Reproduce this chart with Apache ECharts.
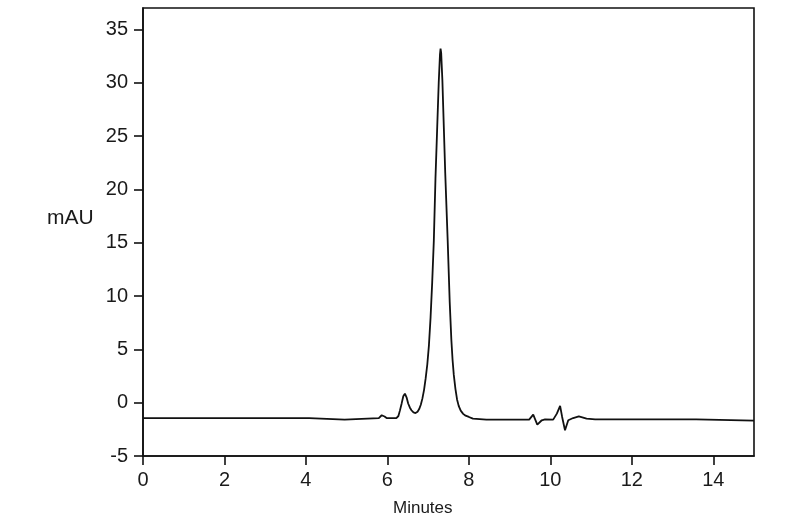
<!DOCTYPE html>
<html>
<head>
<meta charset="utf-8">
<script src="https://cdn.jsdelivr.net/npm/echarts@6/dist/echarts.min.js"></script>
<style>html,body{margin:0;padding:0;background:#fff}#c{width:800px;height:521px}</style>
</head>
<body>
<div id="c"></div>
<script>
// Retention time (minutes)
var times = [
  0.00, 1.00, 2.00, 2.87, 2.88, 2.90, 4.08, 4.10, 4.95, 4.97,
  5.79, 5.86, 5.93, 5.98, 6.22, 6.27, 6.31, 6.35, 6.39, 6.43,
  6.47, 6.51, 6.55, 6.59, 6.64, 6.69, 6.74, 6.78, 6.82, 6.86,
  6.90, 6.94, 6.98, 7.02, 7.06, 7.10, 7.14, 7.18, 7.22, 7.26,
  7.29, 7.305, 7.32, 7.35, 7.37, 7.42, 7.48, 7.53, 7.57, 7.60,
  7.63, 7.67, 7.71, 7.75, 7.80, 7.86, 7.92, 8.00, 8.10, 8.43,
  9.00, 9.03, 9.07, 9.48, 9.58, 9.68, 9.79, 9.87, 10.07, 10.16,
  10.24, 10.29, 10.36, 10.44, 10.56, 10.70, 10.89, 11.10, 11.67, 11.68,
  11.70, 13.58, 13.62, 15.00
];
// Absorbance (mAU)
var absorbance = [
  -1.44, -1.44, -1.44, -1.44, -1.52, -1.44, -1.44, -1.59, -1.59, -1.44,
  -1.44, -1.18, -1.30, -1.44, -1.44, -1.25, -0.70, -0.07, 0.60, 0.85,
  0.50, -0.08, -0.45, -0.71, -0.92, -0.97, -0.85, -0.60, -0.20, 0.40,
  1.20, 2.30, 3.60, 5.40, 8.00, 11.3, 15.2, 21.0, 25.5, 30.0,
  32.6, 33.2, 32.8, 30.2, 27.7, 21.5, 15.2, 9.4, 5.9, 4.0,
  2.6, 1.3, 0.3, -0.30, -0.75, -1.05, -1.22, -1.34, -1.50, -1.59,
  -1.59, -1.44, -1.59, -1.59, -1.12, -2.06, -1.65, -1.56, -1.59, -1.03,
  -0.31, -1.34, -2.59, -1.65, -1.44, -1.28, -1.49, -1.56, -1.56, -1.50,
  -1.56, -1.56, -1.68, -1.68
];
var xTicks = [0, 2, 4, 6, 8, 10, 12, 14];
var yTicks = [-5, 0, 5, 10, 15, 20, 25, 30, 35];
var xTitle = 'Minutes';
var yTitle = 'mAU';

var points = times.map(function (t, i) { return [t, absorbance[i]]; });
var FONT = '"Liberation Sans", Arial, sans-serif';
var INK = '#111';

var chart = echarts.init(document.getElementById('c'), null, {renderer: 'canvas'});
chart.setOption({
  animation: false,
  backgroundColor: '#fff',
  grid: {left: 143, right: 46, top: 8, bottom: 65, show: true, borderColor: INK, borderWidth: 1.6, backgroundColor: 'transparent'},
  xAxis: {
    type: 'value', min: 0, max: 15,
    axisLine: {show: true, onZero: false, lineStyle: {color: INK, width: 1.6}},
    axisTick: {show: true, inside: false, length: 9, lineStyle: {color: INK, width: 1.6}, customValues: xTicks},
    axisLabel: {show: true, margin: 14, fontSize: 20, color: '#1a1a1a', fontFamily: FONT, customValues: xTicks},
    splitLine: {show: false}
  },
  yAxis: {
    type: 'value', min: -5, max: 37,
    axisLine: {show: true, onZero: false, lineStyle: {color: INK, width: 1.6}},
    axisTick: {show: true, inside: false, length: 9, lineStyle: {color: INK, width: 1.6}, customValues: yTicks},
    axisLabel: {show: true, margin: 15, fontSize: 20, color: '#1a1a1a', fontFamily: FONT, customValues: yTicks},
    splitLine: {show: false}
  },
  graphic: [
    {type: 'text', left: 393, top: 500, style: {text: xTitle, fill: '#1a1a1a', font: '17px ' + FONT}},
    {type: 'text', left: 47, top: 208, style: {text: yTitle, fill: '#1a1a1a', font: '21px ' + FONT}}
  ],
  series: [{
    type: 'line',
    data: points,
    showSymbol: false,
    smooth: false,
    lineStyle: {color: INK, width: 1.8},
    clip: true
  }]
});
</script>
</body>
</html>
